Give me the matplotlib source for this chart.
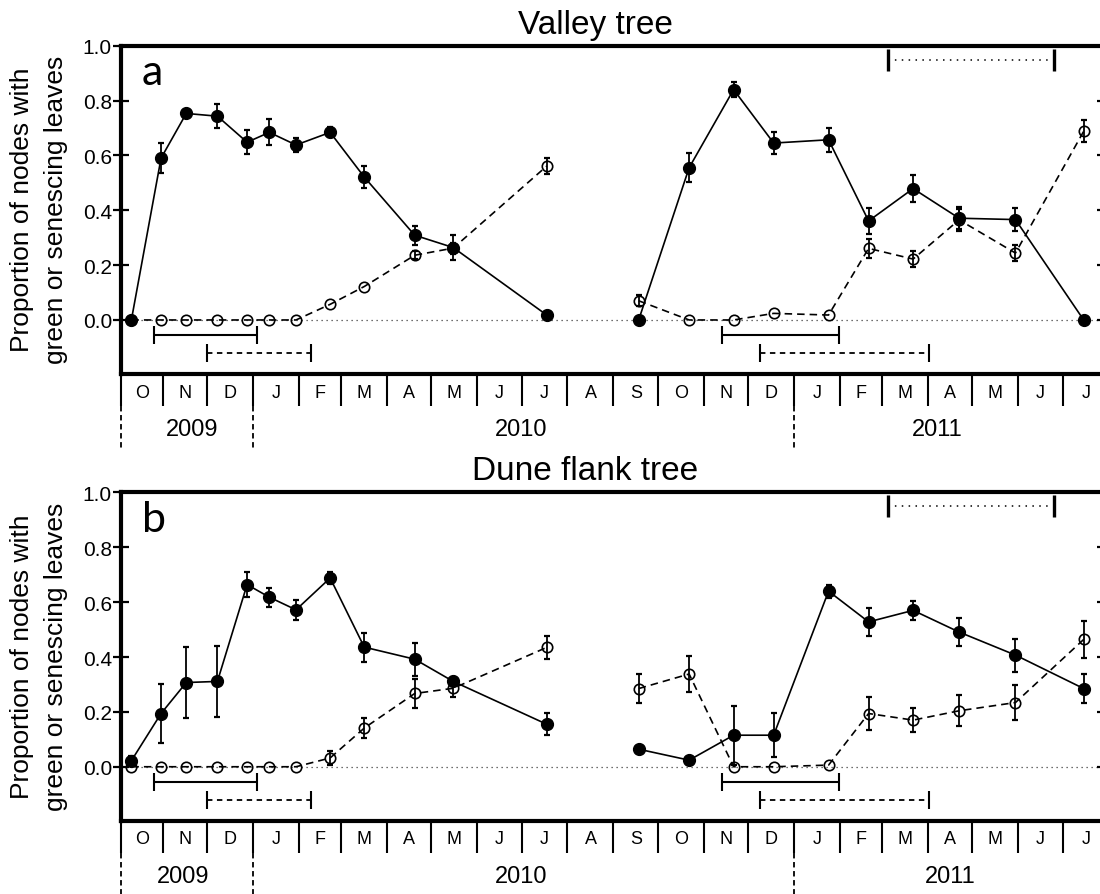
import numpy as np
import matplotlib.pyplot as plt
import matplotlib.dates as mdates
from matplotlib.transforms import blended_transform_factory

plt.rcParams['font.family'] = ['Liberation Sans', 'DejaVu Sans']

# sampling dates, season 2009/10 and season 2010/11
dates_0910 = ['2009-10-11', '2009-10-31', '2009-11-17', '2009-12-08', '2009-12-28', '2010-01-12',
              '2010-01-30', '2010-02-22', '2010-03-17', '2010-04-20', '2010-05-16', '2010-07-18']
dates_1011 = ['2010-09-18', '2010-10-22', '2010-11-21', '2010-12-18', '2011-01-24', '2011-02-20',
              '2011-03-22', '2011-04-22', '2011-05-30', '2011-07-15']

# a) Valley tree
valley_green_0910 = [0.0, 0.59, 0.753, 0.743, 0.648, 0.684, 0.638, 0.684, 0.521, 0.309, 0.264, 0.018]
valley_green_err_0910 = [0, 0.055, 0.01, 0.044, 0.044, 0.047, 0.024, 0.018, 0.039, 0.035, 0.045, 0]
valley_sen_0910 = [0, 0, 0, 0, 0, 0, 0, 0.057, 0.122, 0.236, 0.262, 0.561]
valley_sen_err_0910 = [0, 0, 0, 0, 0, 0, 0, 0, 0, 0.015, 0.02, 0.03]
valley_green_1011 = [0.0, 0.555, 0.84, 0.645, 0.657, 0.361, 0.479, 0.371, 0.366, 0.0]
valley_green_err_1011 = [0, 0.052, 0.028, 0.04, 0.043, 0.047, 0.048, 0.04, 0.042, 0]
valley_sen_1011 = [0.07, 0, 0, 0.024, 0.018, 0.261, 0.222, 0.365, 0.244, 0.688]
valley_sen_err_1011 = [0.02, 0, 0, 0, 0, 0.036, 0.03, 0.04, 0.03, 0.04]

# b) Dune flank tree
dune_green_0910 = [0.022, 0.194, 0.307, 0.311, 0.664, 0.618, 0.572, 0.688, 0.436, 0.392, 0.311, 0.155]
dune_green_err_0910 = [0.018, 0.106, 0.128, 0.13, 0.047, 0.035, 0.037, 0.023, 0.053, 0.06, 0.015, 0.04]
dune_sen_0910 = [0, 0, 0, 0, 0, 0, 0, 0.032, 0.141, 0.267, 0.286, 0.435]
dune_sen_err_0910 = [0, 0, 0, 0, 0, 0, 0, 0.024, 0.035, 0.053, 0.033, 0.042]
dune_green_1011 = [0.064, 0.024, 0.115, 0.115, 0.64, 0.528, 0.57, 0.491, 0.407, 0.285]
dune_green_err_1011 = [0, 0, 0.107, 0.08, 0.024, 0.05, 0.035, 0.05, 0.06, 0.052]
dune_sen_1011 = [0.285, 0.338, 0, 0, 0.006, 0.194, 0.17, 0.204, 0.234, 0.464]
dune_sen_err_1011 = [0.052, 0.065, 0, 0, 0, 0.06, 0.044, 0.056, 0.065, 0.069]

# period bars (start, end)
solid_periods = [('2009-10-26', '2010-01-04'), ('2010-11-13', '2011-01-31')]
dashed_periods = [('2009-12-01', '2010-02-09'), ('2010-12-09', '2011-04-02')]
dotted_period = ('2011-03-05', '2011-06-25')
solid_y, dashed_y, dotted_y = -0.055, -0.12, 0.949

x_range = ('2009-10-04', '2011-07-26')
year_breaks = ['2010-01-01', '2011-01-01']
years = ['2009', '2010', '2011']
year_pos_a = ['2009-11-21', '2010-07-01', '2011-04-07']
year_pos_b = ['2009-11-15', '2010-07-01', '2011-04-16']

titles = ['Valley tree', 'Dune flank tree']
letters = ['a', 'b']


def num(ds):
    return mdates.datestr2num(ds)


def series(ax, dates, vals, errs, filled):
    x = num(dates)
    v = np.array(vals)
    e = np.array(errs)
    if filled:
        ax.plot(x, v, '-', color='k', lw=1.2, marker='o', ms=8.5, mfc='k', mec='k', zorder=4)
    else:
        ax.plot(x, v, ls=(0, (4.5, 3)), color='k', lw=1.2, marker='o', ms=7.5,
                mfc='none', mec='k', mew=1.2, zorder=3)
    m = e > 0
    ax.errorbar(x[m], v[m], yerr=e[m], fmt='none', ecolor='k', elinewidth=1.3,
                capsize=2.5, capthick=1.6, zorder=5 if filled else 3)


fig = plt.figure(figsize=(11, 8.95), dpi=100)
ax_a = fig.add_axes([0.11, 0.58101, 0.89, 0.36681])
ax_b = fig.add_axes([0.11, 0.08179, 0.89, 0.36693])

panels = [
    (ax_a, valley_green_0910, valley_green_err_0910, valley_sen_0910, valley_sen_err_0910,
     valley_green_1011, valley_green_err_1011, valley_sen_1011, valley_sen_err_1011, year_pos_a, 0.485),
    (ax_b, dune_green_0910, dune_green_err_0910, dune_sen_0910, dune_sen_err_0910,
     dune_green_1011, dune_green_err_1011, dune_sen_1011, dune_sen_err_1011, year_pos_b, 0.474),
]

x0, x1 = num(list(x_range))
month_starts = np.arange('2009-10', '2011-08', dtype='datetime64[M]')
bounds = [x0] + list(mdates.date2num(month_starts[1:].astype('datetime64[D]')))

for i, (ax, g1, ge1, s1, se1, g2, ge2, s2, se2, ypos, tx) in enumerate(panels):
    ax.axhline(0, color='0.25', lw=0.9, ls=(0, (1, 3)), zorder=1)

    series(ax, dates_0910, s1, se1, False)
    series(ax, dates_1011, s2, se2, False)
    series(ax, dates_0910, g1, ge1, True)
    series(ax, dates_1011, g2, ge2, True)

    # period bars
    for (a, b) in solid_periods:
        xa, xb = num([a, b])
        ax.errorbar((xa + xb) / 2, solid_y, xerr=(xb - xa) / 2, fmt='none', ecolor='k',
                    elinewidth=1.5, capsize=6.5, capthick=1.5)
    for (a, b) in dashed_periods:
        xa, xb = num([a, b])
        eb = ax.errorbar((xa + xb) / 2, dashed_y, xerr=(xb - xa) / 2, fmt='none', ecolor='k',
                         elinewidth=1.3, capsize=6.5, capthick=1.5)
        eb[2][0].set_linestyle((0, (3, 2.5)))
    xa, xb = num(list(dotted_period))
    eb = ax.errorbar((xa + xb) / 2, dotted_y, xerr=(xb - xa) / 2, fmt='none', ecolor='k',
                     elinewidth=1.1, capsize=8, capthick=2.4)
    eb[2][0].set_linestyle((0, (1, 3.5)))

    ax.set_xlim(x0, x1)
    ax.set_ylim(-0.197, 1.0)
    ax.set_yticks(np.arange(0, 1.01, 0.2))
    ax.set_yticklabels(['%.1f' % t for t in np.arange(0, 1.01, 0.2)])
    ax.tick_params(axis='y', direction='inout', length=11, width=1.6, labelsize=15, pad=1, right=True)
    for t in ax.yaxis.get_major_ticks():
        t.tick2line.set_markersize(5)
    ax.set_xticks(bounds)
    ax.tick_params(axis='x', direction='out', length=23, width=1.5, labelbottom=False)

    for side in ['left', 'top', 'bottom']:
        ax.spines[side].set_linewidth(3)
    ax.spines['right'].set_visible(False)

    trans = blended_transform_factory(ax.transData, ax.transAxes)
    # month letters
    ends = bounds[1:] + [mdates.date2num(np.datetime64('2011-08-01'))]
    for m, a, b in zip(month_starts, bounds, ends):
        letter = m.astype(object).strftime('%b')[0]
        ax.text((a + b) / 2, -0.055, letter, transform=trans, ha='center', va='center', fontsize=13)
    # year separators and labels
    for d in [x0] + list(num(year_breaks)):
        ax.plot([d, d], [-0.098, -0.228], transform=trans, color='k', lw=1.3,
                ls=(0, (3, 2)), clip_on=False)
    for y, p in zip(years, num(ypos)):
        ax.text(p, -0.168, y, transform=trans, ha='center', va='center', fontsize=17)

    ax.text(tx, 1.04, titles[i], transform=ax.transAxes, ha='center', va='baseline', fontsize=24)
    ax.text(0.021, 0.883, letters[i], transform=ax.transAxes, ha='left', va='baseline',
            fontsize=31, family='Lato')

for yc in (0.7654, 0.2663):
    fig.text(22 / 1100, yc, 'Proportion of nodes with', rotation=90, ha='center', va='center', fontsize=19)
    fig.text(56 / 1100, yc, 'green or senescing leaves', rotation=90, ha='center', va='center', fontsize=19)

fig.savefig('out.png', dpi=100)
